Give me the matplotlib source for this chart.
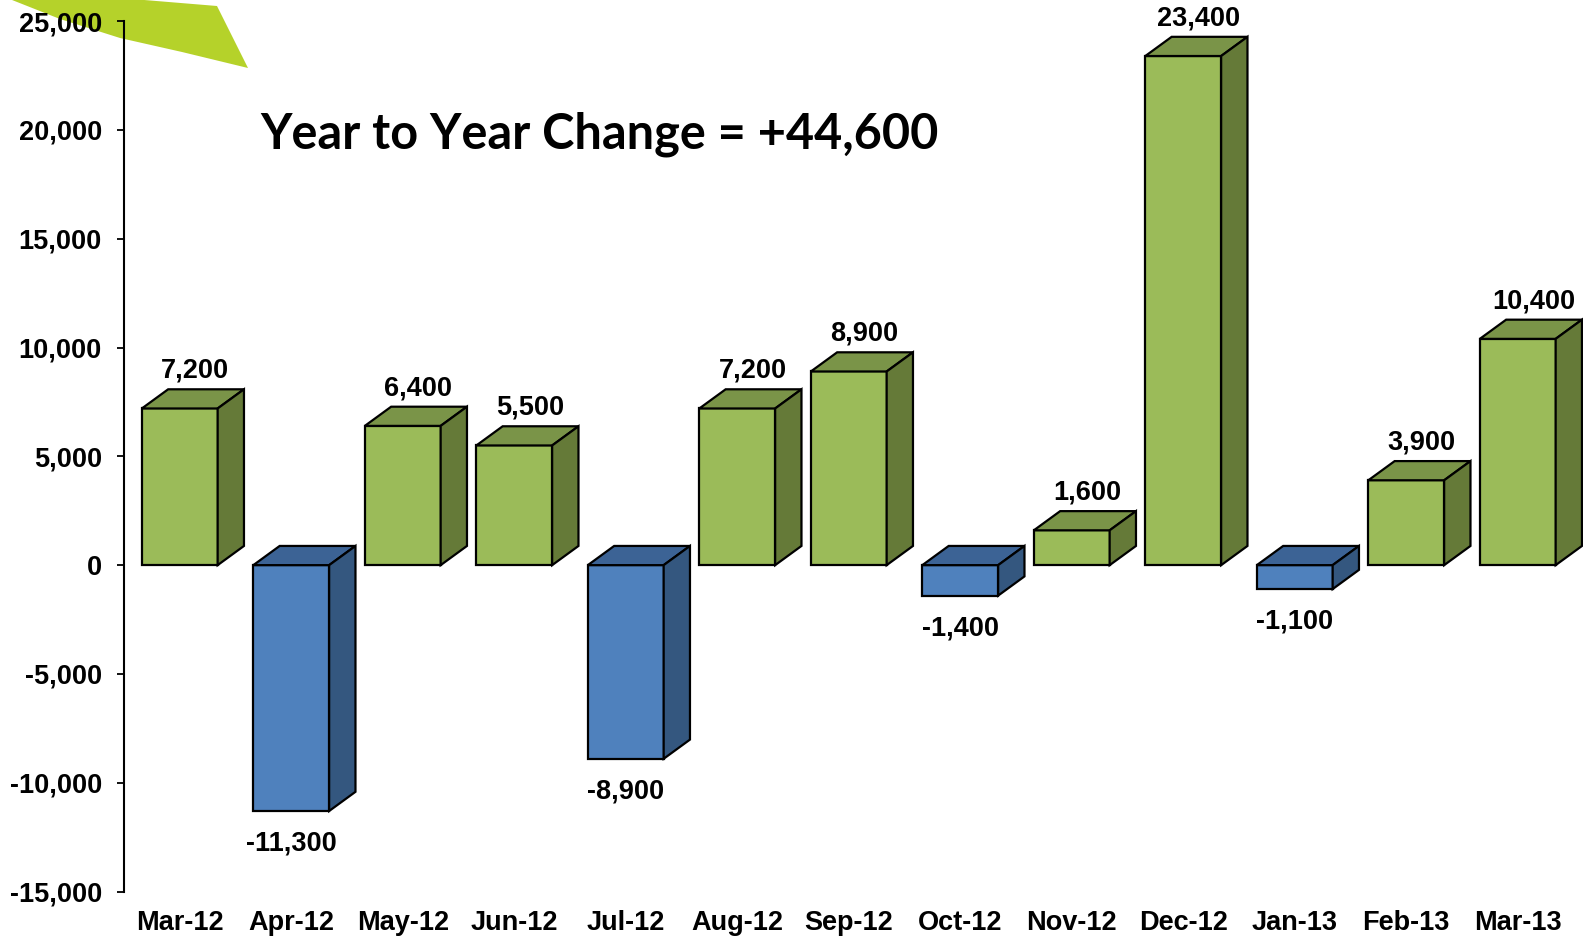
import matplotlib
matplotlib.use("Agg")
import matplotlib.pyplot as plt
from matplotlib.patches import Polygon, Rectangle
from matplotlib.ticker import FuncFormatter

categories = ["Mar-12", "Apr-12", "May-12", "Jun-12", "Jul-12", "Aug-12", "Sep-12",
              "Oct-12", "Nov-12", "Dec-12", "Jan-13", "Feb-13", "Mar-13"]
values = [7200, -11300, 6400, 5500, -8900, 7200, 8900, -1400, 1600, 23400, -1100, 3900, 10400]
title_text = "Year to Year Change = +44,600"
y_ticks = [-15000, -10000, -5000, 0, 5000, 10000, 15000, 20000, 25000]

W, H = 1583, 940
fig = plt.figure(figsize=(W / 100, H / 100), dpi=100)
plt.rcParams['font.family'] = ['Liberation Sans', 'DejaVu Sans']

# decorative banner top-left (figure pixel coords, y down)
banner_px = [(7, -2), (120, -2), (217, 6), (248, 68), (182, 52), (120, 38), (60, 19), (7, -2)]
fig.patches.append(Polygon([(x / W, 1 - y / H) for x, y in banner_px], closed=True,
                           transform=fig.transFigure, facecolor="#b5d22a",
                           edgecolor="none", zorder=-5))

ax = fig.add_axes([124 / W, 48.5 / H, 13 * 111.5 / W, 870.3 / H])
ax.set_zorder(2)
ax.set_xlim(-0.5, len(categories) - 0.5)
ax.set_ylim(-15000, 25000)

w = 0.68
dx = 0.236
dy = 882
fs = 19.5

pos_cols = ("#9BBB59", "#7A9448", "#657A38")
neg_cols = ("#4F81BD", "#3C6395", "#34577F")
lw = 1.6

for i, v in enumerate(values):
    x0 = i - w / 2
    front, top, side = pos_cols if v >= 0 else neg_cols
    ax.add_patch(Rectangle((x0, min(0, v)), w, abs(v), facecolor=front,
                           edgecolor="black", lw=lw, clip_on=False, zorder=3))
    ytop = max(v, 0)
    ax.add_patch(Polygon([(x0, ytop), (x0 + dx, ytop + dy), (x0 + w + dx, ytop + dy), (x0 + w, ytop)],
                         closed=True, facecolor=top, edgecolor="black", lw=lw,
                         clip_on=False, zorder=3, joinstyle="miter"))
    ax.add_patch(Polygon([(x0 + w, min(v, 0)), (x0 + w + dx, min(v, 0) + dy),
                          (x0 + w + dx, ytop + dy), (x0 + w, ytop)],
                         closed=True, facecolor=side, edgecolor="black", lw=lw,
                         clip_on=False, zorder=3, joinstyle="miter"))
    label = f"{v:,}"
    if v >= 0:
        ax.annotate(label, (i + 0.14, v + dy), xytext=(0, 4), textcoords="offset points",
                    ha="center", va="bottom", fontsize=fs, fontweight="bold", zorder=5,
                    annotation_clip=False)
    else:
        ax.annotate(label, (i, v), xytext=(0, -14), textcoords="offset points",
                    ha="center", va="top", fontsize=fs, fontweight="bold", zorder=5,
                    annotation_clip=False)

for s in ("top", "right", "bottom"):
    ax.spines[s].set_visible(False)
ax.spines["left"].set_linewidth(1.5)
ax.set_yticks(y_ticks)
ax.yaxis.set_major_formatter(FuncFormatter(lambda val, p: f"{int(val):,}"))
ax.set_xticks(range(len(categories)))
ax.set_xticklabels(categories)
ax.tick_params(axis="y", direction="out", length=5, width=1.3, pad=11, labelsize=fs)
ax.tick_params(axis="x", length=0, pad=13, labelsize=fs)
for lab in ax.get_xticklabels() + ax.get_yticklabels():
    lab.set_fontweight("bold")
ax.patch.set_alpha(0)

fig.text(260 / W, 1 - 148.5 / H, title_text, fontsize=35, fontweight="bold",
         family=["Lato", "DejaVu Sans"], ha="left", va="baseline", zorder=3)

fig.savefig("out.png", dpi=100)
